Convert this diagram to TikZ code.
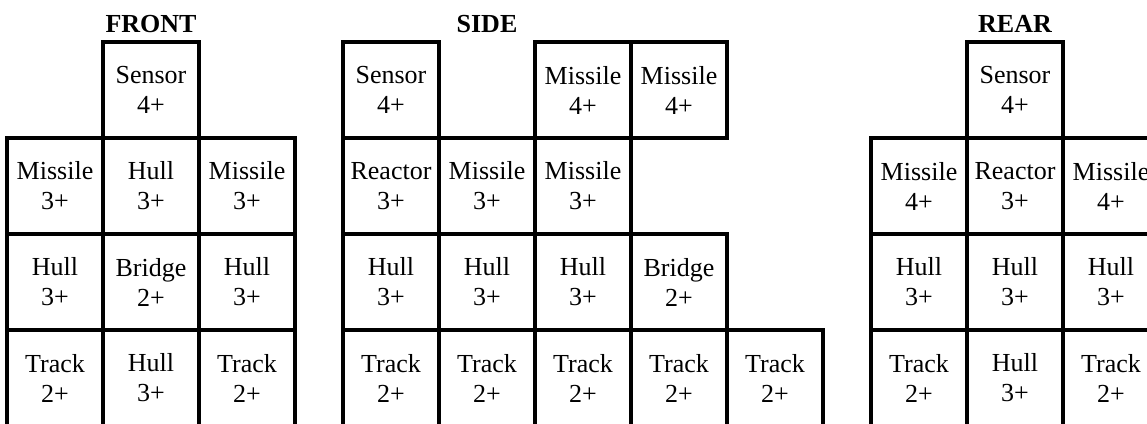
\documentclass[tikz,border=0pt]{standalone}
\usepackage{fontspec}
\setmainfont{Liberation Serif}

\tikzset{
    cell/.style={draw, line width=4pt, minimum size=96pt, inner sep=0pt, align=center, font=\fontsize{26}{30}\selectfont},
    viewtitle/.style={anchor=base, font=\fontsize{26}{30}\selectfont\bfseries}
}

\begin{document}
\begin{tikzpicture}[x=96pt, y=96pt]
    \useasboundingbox (-0.073,0.4375) rectangle (11.875,-3.969);
    \clip (-0.073,0.4375) rectangle (11.875,-3.969);

    % titles
    \node[viewtitle] (tfront) at (1.5,0.104) {FRONT};
    \node[viewtitle] (tside) at (5,0.104) {SIDE};
    \node[viewtitle] (trear) at (10.5,0.104) {REAR};

    % front
    \node[cell] (f12) at (1.5,-0.5) {Sensor\\4+};
    \node[cell] (f21) at (0.5,-1.5) {Missile\\3+};
    \node[cell] (f22) at (1.5,-1.5) {Hull\\3+};
    \node[cell] (f23) at (2.5,-1.5) {Missile\\3+};
    \node[cell] (f31) at (0.5,-2.5) {Hull\\3+};
    \node[cell] (f32) at (1.5,-2.5) {Bridge\\2+};
    \node[cell] (f33) at (2.5,-2.5) {Hull\\3+};
    \node[cell] (f41) at (0.5,-3.5) {Track\\2+};
    \node[cell] (f42) at (1.5,-3.5) {Hull\\3+};
    \node[cell] (f43) at (2.5,-3.5) {Track\\2+};

    % side
    \node[cell] (s11) at (4,-0.5) {Sensor\\4+};
    \node[cell] (s13) at (6,-0.5) {Missile\\4+};
    \node[cell] (s14) at (7,-0.5) {Missile\\4+};
    \node[cell] (s21) at (4,-1.5) {Reactor\\3+};
    \node[cell] (s22) at (5,-1.5) {Missile\\3+};
    \node[cell] (s23) at (6,-1.5) {Missile\\3+};
    \node[cell] (s31) at (4,-2.5) {Hull\\3+};
    \node[cell] (s32) at (5,-2.5) {Hull\\3+};
    \node[cell] (s33) at (6,-2.5) {Hull\\3+};
    \node[cell] (s34) at (7,-2.5) {Bridge\\2+};
    \node[cell] (s41) at (4,-3.5) {Track\\2+};
    \node[cell] (s42) at (5,-3.5) {Track\\2+};
    \node[cell] (s43) at (6,-3.5) {Track\\2+};
    \node[cell] (s44) at (7,-3.5) {Track\\2+};
    \node[cell] (s45) at (8,-3.5) {Track\\2+};

    % rear
    \node[cell] (r12) at (10.5,-0.5) {Sensor\\4+};
    \node[cell] (r21) at (9.5,-1.5) {Missile\\4+};
    \node[cell] (r22) at (10.5,-1.5) {Reactor\\3+};
    \node[cell] (r23) at (11.5,-1.5) {Missile\\4+};
    \node[cell] (r31) at (9.5,-2.5) {Hull\\3+};
    \node[cell] (r32) at (10.5,-2.5) {Hull\\3+};
    \node[cell] (r33) at (11.5,-2.5) {Hull\\3+};
    \node[cell] (r41) at (9.5,-3.5) {Track\\2+};
    \node[cell] (r42) at (10.5,-3.5) {Hull\\3+};
    \node[cell] (r43) at (11.5,-3.5) {Track\\2+};
\end{tikzpicture}
\end{document}
